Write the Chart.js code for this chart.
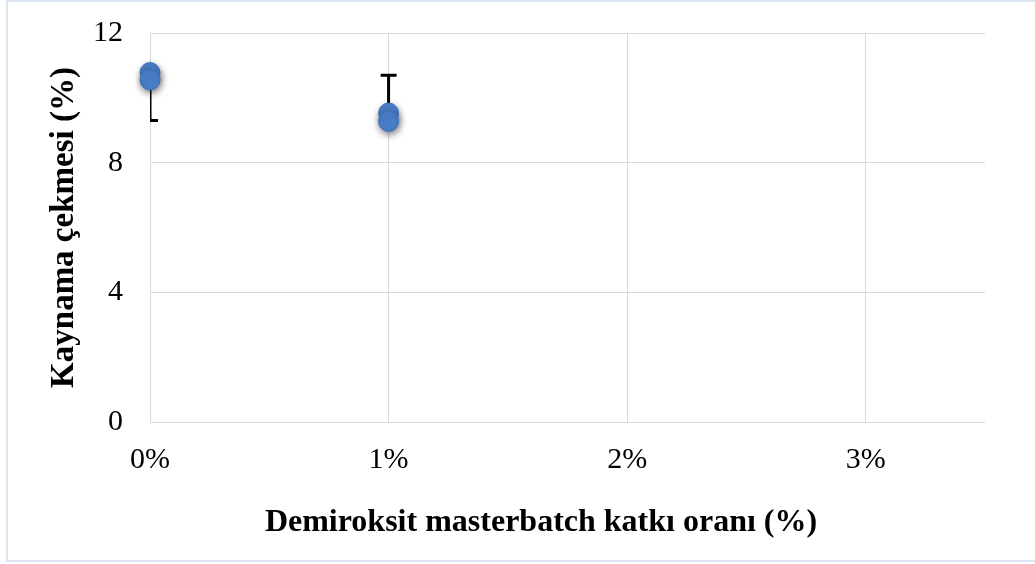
<!DOCTYPE html>
<html>
<head>
<meta charset="utf-8">
<script src="https://cdn.jsdelivr.net/npm/chart.js@4/dist/chart.umd.min.js"></script>
<style>
  html, body { margin: 0; padding: 0; background: #ffffff; }
  #wrap { width: 1035px; height: 564px; position: relative; }
</style>
</head>
<body>
<div id="wrap"><canvas id="c" width="1035" height="564"></canvas></div>
<script>
// Masterbatch ratio (%) on x, boiling shrinkage (%) on y
const ratioValues = [0, 0, 1, 1];
const shrinkValues = [10.78, 10.55, 9.53, 9.27];

// Error bars: [x, from, to]
const errorX = [0, 1];
const errorFrom = [10.55, 9.53];
const errorTo = [9.3, 10.7];

const xTickValues = [0, 1, 2, 3];
const yTickValues = [0, 4, 8, 12];

const xTitle = 'Demiroksit masterbatch katkı oranı (%)';
const yTitle = 'Kaynama çekmesi (%)';

const serif = "'Liberation Serif', 'Times New Roman', serif";

const points = ratioValues.map((x, i) => ({ x: x, y: shrinkValues[i] }));

// Frame around the whole figure
const framePlugin = {
  id: 'frame',
  beforeDraw(chart) {
    const ctx = chart.ctx;
    ctx.save();
    ctx.fillStyle = '#ffffff';
    ctx.fillRect(0, 0, chart.width, chart.height);
    ctx.strokeStyle = '#dbe5f3';
    ctx.lineWidth = 2;
    ctx.strokeRect(7, 1, chart.width + 10, chart.height - 4);
    ctx.restore();
  }
};

// Horizontal axis title, centred under the whole figure body
const xTitlePlugin = {
  id: 'xTitle',
  afterDraw(chart) {
    const ctx = chart.ctx;
    ctx.save();
    ctx.font = 'bold 32px ' + serif;
    ctx.fillStyle = '#000000';
    ctx.textAlign = 'center';
    ctx.textBaseline = 'middle';
    ctx.fillText(xTitle, 541, 523);
    ctx.restore();
  }
};

// Vertical error bars with caps, clipped to the plot area
const errorBarPlugin = {
  id: 'errorBars',
  beforeDatasetsDraw(chart) {
    const ctx = chart.ctx;
    const xs = chart.scales.x, ys = chart.scales.y;
    const a = chart.chartArea;
    ctx.save();
    ctx.beginPath();
    ctx.rect(a.left, a.top, a.right - a.left, a.bottom - a.top);
    ctx.clip();
    ctx.strokeStyle = '#000000';
    ctx.lineWidth = 3;
    errorX.forEach((xv, i) => {
      const px = xs.getPixelForValue(xv);
      const p1 = ys.getPixelForValue(errorFrom[i]);
      const p2 = ys.getPixelForValue(errorTo[i]);
      ctx.beginPath();
      ctx.moveTo(px, p1);
      ctx.lineTo(px, p2);
      ctx.moveTo(px - 8, p2);
      ctx.lineTo(px + 8, p2);
      ctx.stroke();
    });
    ctx.restore();
  }
};

// Soft drop shadow under the markers
const shadowPlugin = {
  id: 'markerShadow',
  beforeDatasetDraw(chart) {
    const ctx = chart.ctx;
    ctx.save();
    ctx.shadowColor = 'rgba(0,0,0,0.45)';
    ctx.shadowBlur = 7;
    ctx.shadowOffsetX = 1;
    ctx.shadowOffsetY = 3;
  },
  afterDatasetDraw(chart) {
    chart.ctx.restore();
  }
};

new Chart(document.getElementById('c'), {
  type: 'scatter',
  data: {
    datasets: [{
      data: points,
      pointRadius: 10,
      pointHoverRadius: 10,
      pointBackgroundColor: '#4a7fc9',
      pointBorderColor: '#3f72b8',
      pointBorderWidth: 1,
      clip: false
    }]
  },
  options: {
    responsive: false,
    animation: false,
    devicePixelRatio: 1,
    layout: { padding: { left: 0, top: 33, right: 50, bottom: 0 } },
    plugins: {
      legend: { display: false },
      tooltip: { enabled: false }
    },
    scales: {
      x: {
        type: 'linear',
        min: 0,
        max: 3.5,
        afterBuildTicks(scale) { scale.ticks = xTickValues.map(v => ({ value: v })); },
        afterFit(scale) {
          scale.height = 142;
          scale.paddingLeft = 0;
          scale.paddingRight = 0;
        },
        grid: { color: '#d9d9d9', lineWidth: 1, drawTicks: false },
        border: { display: false },
        ticks: {
          padding: 20,
          color: '#000000',
          font: { family: serif, size: 30 },
          callback: v => v + '%'
        },
        title: { display: false }
      },
      y: {
        type: 'linear',
        min: 0,
        max: 12,
        afterBuildTicks(scale) { scale.ticks = yTickValues.map(v => ({ value: v })); },
        afterFit(scale) {
          scale.width = 150;
          scale.paddingTop = 0;
          scale.paddingBottom = 0;
        },
        grid: { color: '#d9d9d9', lineWidth: 1, drawTicks: false },
        border: { display: true, color: '#d9d9d9', width: 1 },
        ticks: {
          padding: 27,
          color: '#000000',
          font: { family: serif, size: 30 }
        },
        title: {
          display: true,
          text: yTitle,
          color: '#000000',
          font: { family: serif, size: 33, weight: 'bold', lineHeight: 1.2 },
          padding: { top: 45, bottom: 0 }
        }
      }
    }
  },
  plugins: [framePlugin, errorBarPlugin, shadowPlugin, xTitlePlugin]
});
</script>
</body>
</html>
